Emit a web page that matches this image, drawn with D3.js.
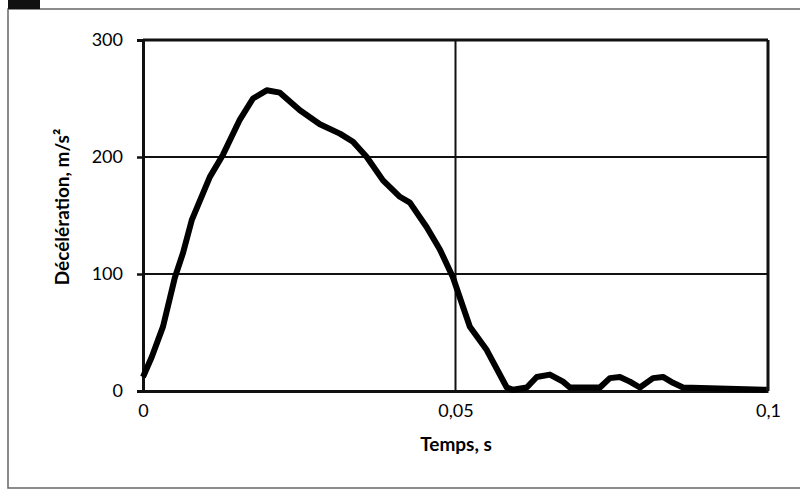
<!DOCTYPE html>
<html lang="fr">
<head>
<meta charset="utf-8">
<title>Décélération</title>
<script src="https://cdn.jsdelivr.net/npm/d3@7"></script>
<style>
  body { margin: 0; background: #fff; }
  text { font-family: Lato, "Open Sans", sans-serif; fill: #000; }
</style>
</head>
<body>
<script>
// time in seconds, deceleration in m/s2
var temps = [0, 0.0014, 0.0032, 0.0051, 0.0064, 0.0078, 0.0107, 0.0128, 0.0155, 0.0176,
  0.0198, 0.0219, 0.0251, 0.0283, 0.0315, 0.0336, 0.0358, 0.0384, 0.0411, 0.0427,
  0.0454, 0.0475, 0.0496, 0.0512, 0.0523, 0.0550, 0.0582, 0.0592, 0.0614, 0.0630,
  0.0651, 0.0672, 0.0683, 0.0731, 0.0747, 0.0763, 0.0779, 0.0795, 0.0816, 0.0832,
  0.0848, 0.0864, 0.0998];
var decel = [12, 29, 55, 97, 118, 146, 183, 202, 232, 250,
  257, 255, 240, 228, 220, 213, 200, 180, 166, 161,
  140, 121, 97, 72, 55, 35, 3, 1, 3, 12,
  14, 8, 3, 3, 11, 12, 8, 3, 11, 12,
  7, 3, 1];
var xTicks = [0, 0.05, 0.1];
var yTicks = [0, 100, 200, 300];
var xTickLabels = ["0", "0,05", "0,1"];

var w = 800, h = 497;
var svg = d3.select("body").append("svg").attr("width", w).attr("height", h);

// outer frame of the figure
svg.append("path")
  .attr("d", "M800,9 H8 V488 H800")
  .attr("fill", "none").attr("stroke", "#666").attr("stroke-width", 1.5);
svg.append("rect").attr("x", 8).attr("y", 0).attr("width", 32).attr("height", 9).attr("fill", "#111");

var x = d3.scaleLinear().domain([0, 0.1]).range([143, 768]);
var y = d3.scaleLinear().domain([0, 300]).range([391, 40]);

// grid lines
svg.selectAll("line.hgrid").data(yTicks.filter(d => d > 0)).enter().append("line")
  .attr("class", "hgrid")
  .attr("x1", x(0)).attr("x2", x(0.1))
  .attr("y1", d => y(d)).attr("y2", d => y(d))
  .attr("stroke", "#111").attr("stroke-width", d => d == 300 ? 3 : 2.2);
svg.selectAll("line.vgrid").data(xTicks.filter(d => d > 0)).enter().append("line")
  .attr("class", "vgrid")
  .attr("x1", d => x(d)).attr("x2", d => x(d))
  .attr("y1", y(300)).attr("y2", y(0))
  .attr("stroke", "#111").attr("stroke-width", d => d == 0.1 ? 3 : 2);

// axes
var yAxis = svg.append("g").attr("transform", "translate(" + x(0) + ",0)")
  .call(d3.axisLeft(y).tickValues(yTicks).tickSize(6).tickPadding(14).tickFormat(d3.format("d")));
var xAxis = svg.append("g").attr("transform", "translate(0," + y(0) + ")")
  .call(d3.axisBottom(x).tickValues(xTicks).tickSize(0).tickPadding(13)
    .tickFormat((d, i) => xTickLabels[i]));
[yAxis, xAxis].forEach(function(g) {
  g.select(".domain").attr("stroke", "#111").attr("stroke-width", 3);
  g.selectAll(".tick line").attr("stroke", "#111").attr("stroke-width", 2.5);
  g.selectAll(".tick text").style("font-family", "Lato, sans-serif").style("font-size", "18px").attr("fill", "#000");
});

// curve
var pts = temps.map((t, i) => [t, decel[i]]);
var line = d3.line().x(d => x(d[0])).y(d => y(d[1]));
svg.append("path").datum(pts)
  .attr("d", line)
  .attr("fill", "none").attr("stroke", "#000").attr("stroke-width", 6)
  .attr("stroke-linejoin", "round");

// axis titles
svg.append("text")
  .attr("x", 456).attr("y", 451)
  .attr("text-anchor", "middle")
  .style("font-size", "19px").style("font-weight", "bold")
  .text("Temps, s");
svg.append("text")
  .attr("transform", "translate(69,207) rotate(-90)")
  .attr("text-anchor", "middle")
  .style("font-size", "19px").style("font-weight", "bold")
  .text("Décélération, m/s²");
</script>
</body>
</html>
